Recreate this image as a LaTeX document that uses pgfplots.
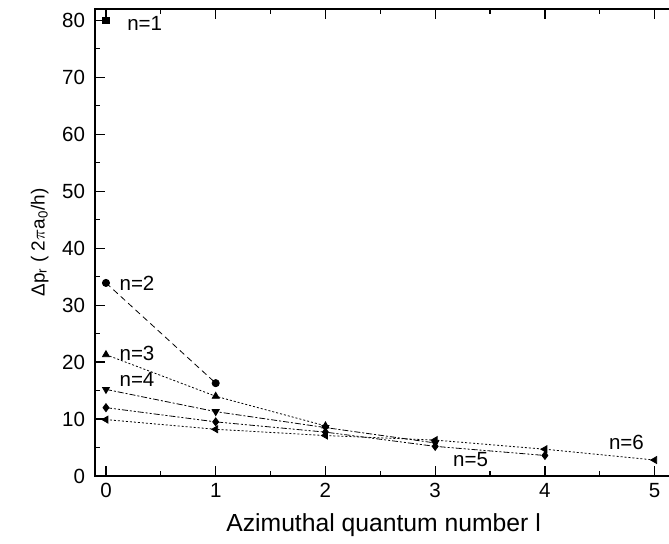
\documentclass[border=0pt]{standalone}
\usepackage{fontspec}
\setmainfont{Liberation Sans}
\usepackage{pgfplots}
\pgfplotsset{compat=1.18}
\begin{document}
\begin{tikzpicture}
\begin{axis}[
  scale only axis, width=288.6bp, height=233.5bp,
  xmin=-0.1, xmax=5.16, ymin=0, ymax=82,
  xtick={0,...,5}, ytick={0,10,...,80},
  minor x tick num=1, minor y tick num=1,
  tick align=inside, xtick pos=both, ytick pos=left,
  major tick length=5bp, minor tick length=2.5bp,
  every tick/.style={black, line width=0.6pt},
  axis line style={line width=0.8pt},
  tick label style={font=\fontsize{10.3}{12}\selectfont},
  yticklabel style={xshift=-1.5bp},
  /pgf/number format/assume math mode=true,
  xlabel={Azimuthal quantum number l},
  xlabel style={font=\fontsize{12.4}{14}\selectfont, yshift=-1bp},
  ylabel={Δp\textsubscript{r} ( 2$\pi$a\textsubscript{0}/h)},
  ylabel style={font=\fontsize{9.5}{11}\selectfont},
]
% n=1
\addplot[black, only marks, mark=square*, mark size=1.6bp] coordinates {(0,80)};
% n=2
\addplot[black, line width=0.4pt, dash pattern=on 3bp off 2bp, mark=*, mark size=1.8bp, mark options={solid}]
  coordinates {(0,33.9) (1,16.3)};
% n=3
\addplot[black, line width=0.4pt, dash pattern=on 1bp off 1bp, mark=triangle*, mark size=2bp, mark options={solid}]
  coordinates {(0,21.3) (1,14.0) (2,8.8)};
% n=4
\addplot[black, line width=0.4pt, dash pattern=on 3bp off 1bp on 1bp off 1bp, mark=triangle*, mark size=2bp, mark options={solid, rotate=180}]
  coordinates {(0,15.2) (1,11.3) (2,8.5) (3,5.8)};
% n=5
\addplot[black, line width=0.4pt, dash pattern=on 3bp off 1bp on 1bp off 1bp on 1bp off 1bp, mark=diamond*, mark size=2bp, mark options={solid}]
  coordinates {(0,12.0) (1,9.5) (2,7.7) (3,5.2) (4,3.6)};
% n=6
\addplot[black, line width=0.4pt, dash pattern=on 1bp off 1bp, mark=triangle*, mark size=2bp, mark options={solid, rotate=90}]
  coordinates {(0,9.9) (1,8.2) (2,7.1) (3,6.3) (4,4.7) (5,2.8)};
\node[anchor=west, font=\fontsize{10.3}{12}\selectfont] at (axis cs:0.13,79.4) {n=1};
\node[anchor=west, font=\fontsize{10.3}{12}\selectfont] at (axis cs:0.06,33.9) {n=2};
\node[anchor=west, font=\fontsize{10.3}{12}\selectfont] at (axis cs:0.06,21.6) {n=3};
\node[anchor=west, font=\fontsize{10.3}{12}\selectfont] at (axis cs:0.06,16.9) {n=4};
\node[anchor=west, font=\fontsize{10.3}{12}\selectfont] at (axis cs:3.10,2.8) {n=5};
\node[anchor=west, font=\fontsize{10.3}{12}\selectfont] at (axis cs:4.52,5.9) {n=6};
\end{axis}
\pgfresetboundingbox
\path (current axis.south west) ++(-47.5bp,-34bp) coordinate (a);
\path (current axis.north west) ++(287bp,4.5bp) coordinate (b);
\path (a) rectangle (b);
\end{tikzpicture}
\end{document}
